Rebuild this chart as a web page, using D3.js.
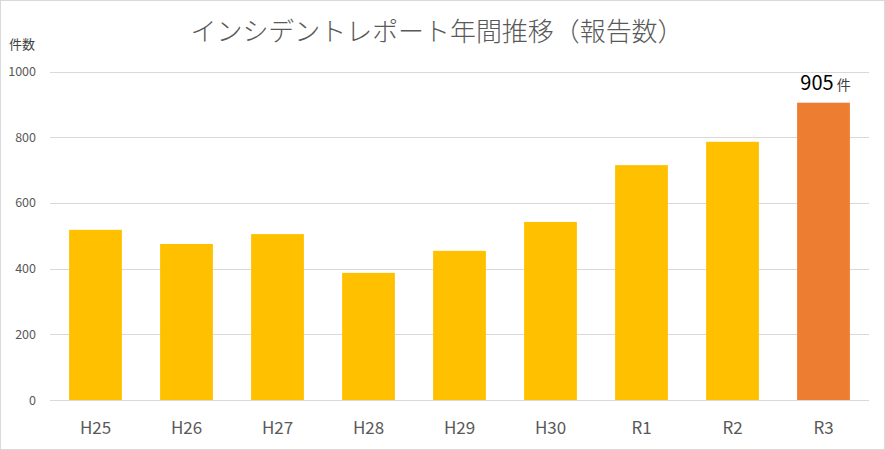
<!DOCTYPE html>
<html><head><meta charset="utf-8">
<script src="https://cdn.jsdelivr.net/npm/d3@7"></script>
<style>body{margin:0;background:#fff}svg{display:block}</style>
</head><body>
<script>
const categories = ["H25","H26","H27","H28","H29","H30","R1","R2","R3"];
const values = [518, 475, 505, 387, 454, 542, 715, 786, 905];
const yTicks = [0, 200, 400, 600, 800, 1000];
const title = "インシデントレポート年間推移（報告数）";
const yTitle = "件数";
const highlightLabel = "905";
const highlightUnit = "件";

const W = 885, H = 450;
const m = {left: 50, right: 16, top: 71.5, bottom: 50};
const svg = d3.select("body").append("svg").attr("width", W).attr("height", H);
svg.append("rect").attr("x",0.5).attr("y",0.5).attr("width",W-1).attr("height",H-1)
  .attr("fill","#fff").attr("stroke","#d9d9d9");

const x = d3.scaleBand().domain(categories).range([m.left, W - m.right]).paddingInner(0.42).paddingOuter(0.21);
const y = d3.scaleLinear().domain([0, 1000]).range([H - m.bottom, m.top]);

const font = "'Noto Sans CJK JP', 'Noto Sans', sans-serif";

// gridlines
svg.append("g").selectAll("line").data(yTicks).join("line")
  .attr("x1", m.left).attr("x2", W - m.right)
  .attr("y1", d => Math.round(y(d)) + 0.5).attr("y2", d => Math.round(y(d)) + 0.5)
  .attr("stroke", "#d9d9d9").attr("stroke-width", 1);

// y axis labels
const yAxis = d3.axisLeft(y).tickValues(yTicks).tickFormat(d3.format("d")).tickSize(0).tickPadding(0);
const gy = svg.append("g").attr("transform", `translate(36,0)`).call(yAxis);
gy.select(".domain").remove();
gy.selectAll("text").attr("font-family", font).attr("font-size", 12.5).attr("fill", "#595959");

// bars
const last = categories[categories.length - 1];
svg.append("g").selectAll("rect").data(categories).join("rect")
  .attr("x", d => x(d)).attr("width", x.bandwidth())
  .attr("y", (d,i) => y(values[i])).attr("height", (d,i) => y(0) - y(values[i]))
  .attr("fill", d => d === last ? "#ED7D31" : "#FFC000");

// baseline
svg.append("line").attr("x1", m.left).attr("x2", W - m.right)
  .attr("y1", Math.round(y(0)) + 0.5).attr("y2", Math.round(y(0)) + 0.5).attr("stroke", "#d9d9d9");

// x axis labels
const xAxis = d3.axisBottom(x).tickSize(0).tickPadding(0);
const gx = svg.append("g").attr("transform", `translate(0,${y(0)})`).call(xAxis);
gx.select(".domain").remove();
gx.selectAll("text").attr("font-family", font).attr("font-size", 17).attr("fill", "#595959")
  .attr("dy", null).attr("y", 34);

// title
svg.append("text").attr("x", 437).attr("y", 41).attr("text-anchor", "middle")
  .attr("font-family", font).attr("font-weight", 300).attr("font-size", 26).attr("fill", "#595959")
  .attr("textLength", 493).attr("lengthAdjust", "spacingAndGlyphs").text(title);

// y title
svg.append("text").attr("x", 9).attr("y", 49).attr("font-family", font).attr("font-size", 13)
  .attr("fill", "#404040").text(yTitle);

// highlight label
const lab = svg.append("text").attr("x", x(last) + x.bandwidth()/2 + 2).attr("y", y(values[values.length-1]) - 13)
  .attr("text-anchor", "middle").attr("font-family", font).attr("fill", "#000");
lab.append("tspan").attr("font-size", 20).text(highlightLabel);
lab.append("tspan").attr("font-size", 14).attr("dx", 3).attr("fill", "#404040").text(highlightUnit);
</script>
</body></html>
